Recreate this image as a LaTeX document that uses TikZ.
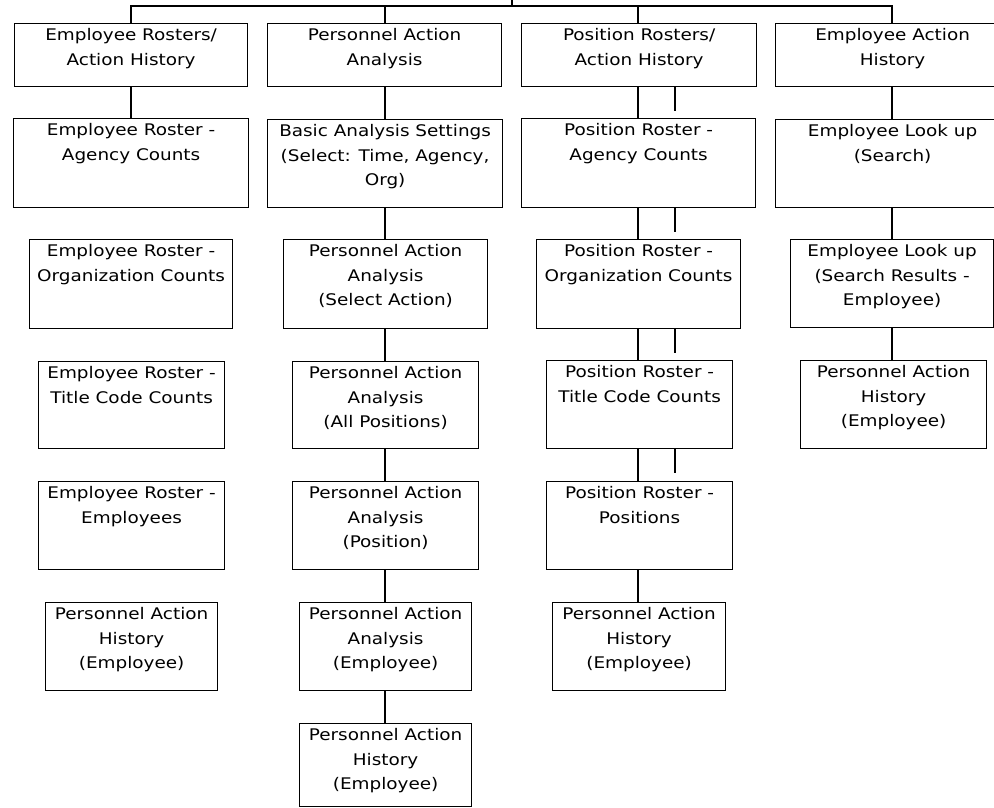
\documentclass[tikz,border=0pt]{standalone}
\usepackage{fontspec}
\setmainfont{DejaVu Sans}[FakeStretch=1.15]
\begin{document}
\begin{tikzpicture}[x=1pt,y=-1pt,
  boxst/.style={draw=black,line width=1.2pt,inner sep=0pt,anchor=north west,
    font=\fontsize{16}{24.5}\selectfont},
  conn/.style={draw=black,line width=1.2pt}]
\clip (0,0) rectangle (994,807);
\fill[white] (0,0) rectangle (994,807);
\newcommand\bx[6]{\node[boxst] (#1) at (#2,#3) {\parbox[c][#5pt][t]{#4pt}{\centering\rule{0pt}{17pt}#6}};}
% column 1
\bx{h1}{14}{23}{233}{63}{Employee Rosters/\\Action History}
\bx{a1}{13}{118}{235}{89}{Employee Roster -\\Agency Counts}
\bx{a2}{29}{239}{203}{89}{Employee Roster -\\Organization Counts}
\bx{a3}{38}{361}{186}{87}{Employee Roster -\\Title Code Counts}
\bx{a4}{38}{481}{186}{88}{Employee Roster -\\Employees}
\bx{a5}{45}{602}{172}{88}{Personnel Action\\History\\(Employee)}
% column 2
\bx{h2}{267}{23}{234}{63}{Personnel Action\\Analysis}
\bx{b1}{267}{119}{235}{88}{Basic Analysis Settings\\(Select: Time, Agency,\\Org)}
\bx{b2}{283}{239}{204}{89}{Personnel Action\\Analysis\\(Select Action)}
\bx{b3}{292}{361}{186}{87}{Personnel Action\\Analysis\\(All Positions)}
\bx{b4}{292}{481}{186}{88}{Personnel Action\\Analysis\\(Position)}
\bx{b5}{299}{602}{172}{88}{Personnel Action\\Analysis\\(Employee)}
\bx{b6}{299}{723}{172}{83}{Personnel Action\\History\\(Employee)}
% column 3
\bx{h3}{521}{23}{235}{63}{Position Rosters/\\Action History}
\bx{c1}{521}{118}{234}{89}{Position Roster -\\Agency Counts}
\bx{c2}{536}{239}{204}{89}{Position Roster -\\Organization Counts}
\bx{c3}{546}{360}{186}{88}{Position Roster -\\Title Code Counts}
\bx{c4}{546}{481}{186}{88}{Position Roster -\\Positions}
\bx{c5}{552}{602}{173}{88}{Personnel Action\\History\\(Employee)}
% column 4
\bx{h4}{775}{23}{234}{63}{Employee Action\\History}
\bx{d1}{775}{119}{234}{88}{Employee Look up\\(Search)}
\bx{d2}{790}{239}{203}{88}{Employee Look up\\(Search Results -\\Employee)}
\bx{d3}{800}{360}{186}{88}{Personnel Action\\History\\(Employee)}
% spine x positions
\coordinate (x1) at (131,0);
\coordinate (x2) at (385,0);
\coordinate (x3) at (638,0);
\coordinate (x4) at (892,0);
% top bus
\coordinate (top) at (512,0);
\coordinate (bus) at (512,6);
\draw[conn] (top) -- (bus);
\draw[conn] (x1 |- h1.north) |- (bus) -| (x4 |- h4.north);
\draw[conn] (x2 |- h2.north) -- (x2 |- bus);
\draw[conn] (x3 |- h3.north) -- (x3 |- bus);
% column 1
\draw[conn] (x1 |- h1.south) -- (x1 |- a1.north);
% column 2
\draw[conn] (x2 |- h2.south) -- (x2 |- b1.north);
\draw[conn] (x2 |- b1.south) -- (x2 |- b2.north);
\draw[conn] (x2 |- b2.south) -- (x2 |- b3.north);
\draw[conn] (x2 |- b3.south) -- (x2 |- b4.north);
\draw[conn] (x2 |- b4.south) -- (x2 |- b5.north);
\draw[conn] (x2 |- b5.south) -- (x2 |- b6.north);
% column 3
\draw[conn] (x3 |- h3.south) -- (x3 |- c1.north);
\draw[conn] (x3 |- c1.south) -- (x3 |- c2.north);
\draw[conn] (x3 |- c2.south) -- (x3 |- c3.north);
\draw[conn] (x3 |- c3.south) -- (x3 |- c4.north);
\draw[conn] (x3 |- c4.south) -- (x3 |- c5.north);
\coordinate (s1) at (675,111);
\coordinate (s2) at (675,232);
\coordinate (s3) at (675,353);
\coordinate (s4) at (675,473);
\draw[conn] (s1 |- h3.south) -- (s1);
\draw[conn] (s2 |- c1.south) -- (s2);
\draw[conn] (s3 |- c2.south) -- (s3);
\draw[conn] (s4 |- c3.south) -- (s4);
% column 4
\draw[conn] (x4 |- h4.south) -- (x4 |- d1.north);
\draw[conn] (x4 |- d1.south) -- (x4 |- d2.north);
\draw[conn] (x4 |- d2.south) -- (x4 |- d3.north);
\end{tikzpicture}
\end{document}
